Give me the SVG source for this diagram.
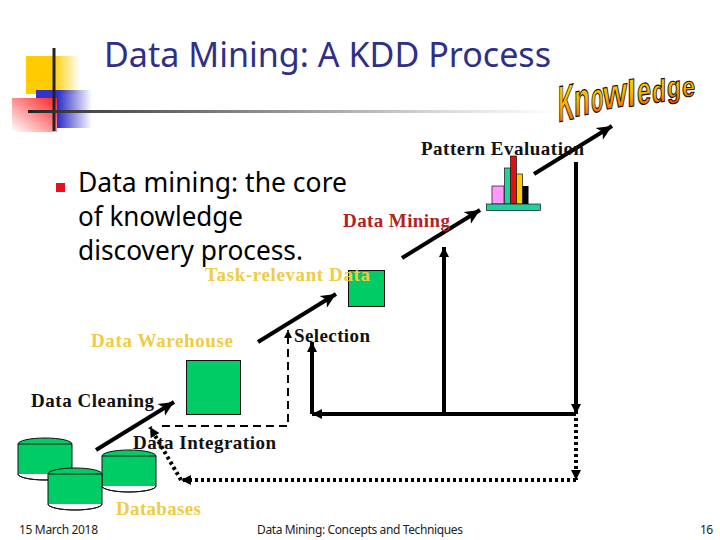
<svg xmlns="http://www.w3.org/2000/svg" width="720" height="540" viewBox="0 0 720 540">
<style>
.title{font-family:"Noto Sans",sans-serif;font-size:34.500px;fill:#2f2f88}
.body{font-family:"Noto Sans",sans-serif;font-size:27px;fill:#000}
.foot{font-family:"Noto Sans",sans-serif;font-size:12px;fill:#222}
.lbl{font-family:"Liberation Serif",serif;font-weight:bold;font-size:19px;fill:#111}
.yel{fill:#eecc44}
.red{fill:#b22222}
.g{fill:#00cc66;stroke:#111;stroke-width:1}
.c{fill:none;stroke:#000;stroke-width:4}
.ka{font-family:"Liberation Sans",sans-serif;font-weight:bold;font-size:30px;fill:url(#kg);stroke:#111;stroke-width:1;vector-effect:non-scaling-stroke}
</style>
<defs>
<linearGradient id="fy"><stop offset=".5" stop-color="#ffcc00"/><stop offset="1" stop-color="#ffcc00" stop-opacity="0"/></linearGradient>
<linearGradient id="fb"><stop offset=".4" stop-color="#3333cc"/><stop offset="1" stop-color="#3333cc" stop-opacity="0"/></linearGradient>
<linearGradient id="fr" x1="1" y1="0" x2="0" y2="1"><stop offset="0" stop-color="#ff2222"/><stop offset="1" stop-color="#ffffff"/></linearGradient>
<linearGradient id="fl"><stop offset="0" stop-color="#222"/><stop offset=".1" stop-color="#444"/><stop offset=".5" stop-color="#999"/><stop offset=".8" stop-color="#ddd"/><stop offset="1" stop-color="#fff"/></linearGradient>
<linearGradient id="kg" x1="0" y1="0" x2="0" y2="1"><stop offset="0" stop-color="#ffe000"/><stop offset=".55" stop-color="#ffb000"/><stop offset="1" stop-color="#ee4400"/></linearGradient>
<marker id="big" markerUnits="userSpaceOnUse" markerWidth="18" markerHeight="16" refX="15" refY="8" orient="auto"><path d="M0 1L15 8L0 15L4 8Z"/></marker>
<marker id="sm" markerUnits="userSpaceOnUse" markerWidth="12" markerHeight="12" refX="10" refY="5" orient="auto"><path d="M0 0L10 5L0 10Z"/></marker>
<marker id="tiny" markerUnits="userSpaceOnUse" markerWidth="10" markerHeight="10" refX="8" refY="4" orient="auto"><path d="M0 0L8 4L0 8Z"/></marker>
</defs>
<g id="logo">
<rect x="26" y="56" width="54" height="38" fill="url(#fy)"/>
<rect x="36" y="90" width="56" height="38" fill="url(#fb)"/>
<rect x="12" y="98" width="45" height="34" fill="url(#fr)"/>
<path d="M54 48V131" stroke="#222" stroke-width="3"/>
<rect x="28" y="110" width="530" height="3" fill="url(#fl)"/>
</g>
<text class="title" x="104" y="67" textLength="447" lengthAdjust="spacingAndGlyphs">Data Mining: A KDD Process</text>
<g id="body">
<rect x="56" y="183" width="9" height="9" fill="#e8101c"/>
<text class="body" x="78" y="192" textLength="269" lengthAdjust="spacingAndGlyphs">Data mining: the core</text>
<text class="body" x="78" y="226" textLength="165" lengthAdjust="spacingAndGlyphs">of knowledge</text>
<text class="body" x="78" y="260" textLength="225" lengthAdjust="spacingAndGlyphs">discovery process.</text>
</g>
<g id="connectors">
<path class="c" d="M96 450L174 402" marker-end="url(#big)"/>
<path class="c" d="M258 342L336 294" marker-end="url(#big)"/>
<path class="c" d="M402 258L480 210" marker-end="url(#big)"/>
<path class="c" d="M534 174L612 126" marker-end="url(#big)"/>
<path class="c" d="M576 414H312" marker-end="url(#sm)"/>
<path class="c" d="M312 414V342" marker-end="url(#sm)"/>
<path class="c" d="M444 414V247" marker-end="url(#sm)"/>
<path class="c" d="M576 162V414" marker-end="url(#sm)"/>
<path fill="none" stroke="#000" stroke-width="4" stroke-dasharray="3 3" d="M576 418V480" marker-end="url(#sm)"/>
<path fill="none" stroke="#000" stroke-width="4" stroke-dasharray="3 3" d="M576 480H181" marker-end="url(#sm)"/>
<path fill="none" stroke="#000" stroke-width="4" stroke-dasharray="3 3" d="M181 480L150 427" marker-end="url(#sm)"/>
<path fill="none" stroke="#000" stroke-width="2" stroke-dasharray="8 5" d="M162 426H288V330" marker-end="url(#tiny)"/>
</g>
<g id="bars">
<rect x="492" y="186" width="12" height="18" fill="#ff99ff" stroke="#111" stroke-width=".7"/>
<rect x="504.500" y="168" width="6" height="36" fill="#1fd0a0" stroke="#111" stroke-width=".7"/>
<rect x="510.500" y="156" width="6" height="48" fill="#e01010" stroke="#111" stroke-width=".7"/>
<rect x="516.500" y="174" width="6" height="30" fill="#ffcc00" stroke="#111" stroke-width=".7"/>
<rect x="522.500" y="186" width="6" height="18" fill="#000"/>
<rect x="486.500" y="204" width="54" height="6.500" fill="#1fd0a0" stroke="#111" stroke-width=".7"/>
</g>
<rect id="task-data" class="g" x="348.500" y="270.500" width="36" height="36"/>
<rect id="warehouse" class="g" x="186.500" y="360.500" width="54" height="54"/>
<g id="databases">
<g id="db1"><path class="g" d="M18 444A27 6 0 0 1 72 444V474A27 6 0 0 1 18 474ZM18 444H72M18 474A27 6 0 0 0 72 474"/></g>
<g id="db3"><path class="g" d="M102 456A27 6 0 0 1 156 456V486A27 6 0 0 1 102 486ZM102 456H156M102 486A27 6 0 0 0 156 486"/></g>
<g id="db2"><path class="g" d="M48 474A27 6 0 0 1 102 474V504A27 6 0 0 1 48 504ZM48 474H102M48 504A27 6 0 0 0 102 504"/></g>
</g>
<g id="labels">
<text class="lbl" x="421" y="155" textLength="163">Pattern Evaluation</text>
<text class="lbl red" x="343" y="227" textLength="107">Data Mining</text>
<text class="lbl yel" x="205" y="281" textLength="165">Task-relevant Data</text>
<text class="lbl" x="294" y="342" textLength="76">Selection</text>
<text class="lbl yel" x="91" y="347" textLength="142">Data Warehouse</text>
<text class="lbl" x="31" y="407" textLength="123">Data Cleaning</text>
<text class="lbl" x="133" y="449" textLength="143">Data Integration</text>
<text class="lbl yel" x="116" y="515" textLength="85">Databases</text>
</g>
<g id="knowledge">
<text class="ka" transform="matrix(.74 -.15 0 1.7 558 122)">K</text>
<text class="ka" transform="matrix(.87 -.17 0 1.57 574 117)">n</text>
<text class="ka" transform="matrix(.68 -.13 0 1.38 591 113)">o</text>
<text class="ka" transform="matrix(1.03 -.2 0 1.38 603 110)">w</text>
<text class="ka" transform="matrix(1.08 -.16 0 1.25 627 107)">l</text>
<text class="ka" transform="matrix(.84 -.12 0 1.3 637 105)">e</text>
<text class="ka" transform="matrix(.76 -.1 0 1.06 652 103)">d</text>
<text class="ka" transform="matrix(.76 -.08 0 1 667 98)">g</text>
<text class="ka" transform="matrix(.78 -.06 0 .94 682 97)">e</text>
</g>
<g id="footer">
<text class="foot" x="19" y="534" textLength="79">15 March 2018</text>
<text class="foot" x="257" y="534" textLength="206">Data Mining: Concepts and Techniques</text>
<text class="foot" x="700" y="534" textLength="13">16</text>
</g>
</svg>
